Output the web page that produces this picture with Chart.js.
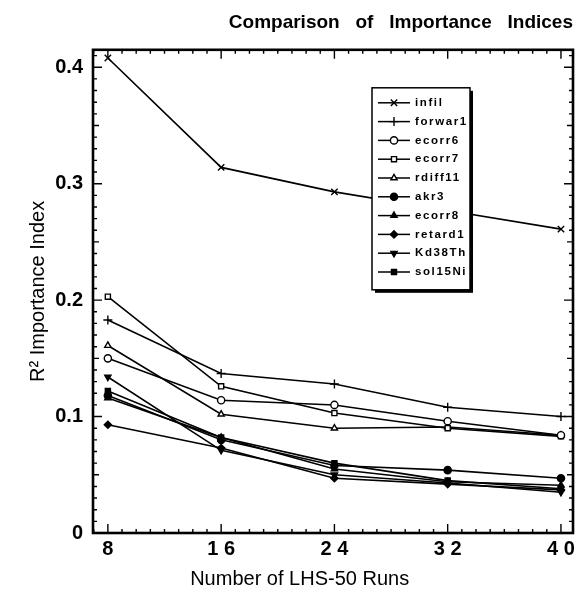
<!DOCTYPE html>
<html>
<head>
<meta charset="utf-8">
<title>Comparison of Importance Indices</title>
<script src="https://cdn.jsdelivr.net/npm/chart.js@4"></script>
<style>
  html, body { margin: 0; padding: 0; background: #fff; }
  canvas { display: block; }
</style>
</head>
<body>
<canvas id="importance" width="584" height="592"></canvas>
<script>
// Data definitions
const runs = [8, 16, 24, 32, 40];
const runLabels = ['8', '1 6', '2 4', '3 2', '4 0'];
const yTicks = [0, 0.1, 0.2, 0.3, 0.4];
const yTickLabels = ['0', '0.1', '0.2', '0.3', '0.4'];

const infil = [0.408, 0.314, 0.293, 0.277, 0.261];
const forwar1 = [0.183, 0.137, 0.128, 0.108, 0.100];
const ecorr6 = [0.150, 0.114, 0.110, 0.096, 0.084];
const ecorr7 = [0.203, 0.126, 0.103, 0.090, 0.083];
const rdiff11 = [0.161, 0.102, 0.090, 0.091, 0.084];
const akr3 = [0.118, 0.080, 0.058, 0.054, 0.047];
const ecorr8 = [0.116, 0.082, 0.055, 0.044, 0.041];
const retard1 = [0.093, 0.073, 0.047, 0.042, 0.037];
const kd38Th = [0.134, 0.071, 0.050, 0.043, 0.035];
const sol15Ni = [0.122, 0.082, 0.060, 0.045, 0.038];

// Marker look for each variable
const series = [
  { label: 'infil', values: infil, style: 'crossRot', fill: false },
  { label: 'forwar1', values: forwar1, style: 'cross', fill: false },
  { label: 'ecorr6', values: ecorr6, style: 'circle', fill: false },
  { label: 'ecorr7', values: ecorr7, style: 'rect', fill: false },
  { label: 'rdiff11', values: rdiff11, style: 'triangle', fill: false },
  { label: 'akr3', values: akr3, style: 'circle', fill: true },
  { label: 'ecorr8', values: ecorr8, style: 'triangle', fill: true },
  { label: 'retard1', values: retard1, style: 'rectRot', fill: true },
  { label: 'Kd38Th', values: kd38Th, style: 'triangle', fill: true, rotation: 180 },
  { label: 'sol15Ni', values: sol15Ni, style: 'rect', fill: true }
];

const datasets = series.map(s => ({
  label: s.label,
  data: runs.map((r, i) => ({ x: r, y: s.values[i] })),
  borderColor: '#000',
  borderWidth: 1.6,
  pointStyle: s.style,
  pointRotation: s.rotation || 0,
  pointRadius: s.style === 'crossRot' || s.style === 'cross' ? 4.5 : 3.6,
  pointBorderColor: '#000',
  pointBorderWidth: 1.4,
  pointBackgroundColor: s.fill ? '#000' : '#fff',
  tension: 0
}));

const fontFamily = '"Liberation Sans", Arial, sans-serif';

// Frame with inward tick marks on all four sides
const frameTicks = {
  id: 'frameTicks',
  afterDatasetsDraw(chart) {
    const { ctx, chartArea: a, scales: { x, y } } = chart;
    ctx.save();
    ctx.strokeStyle = '#000';
    ctx.lineWidth = 1.4;
    ctx.beginPath();
    for (let v = 7; v <= 40; v++) {
      const px = x.getPixelForValue(v);
      const len = v % 8 === 0 ? 9 : 4;
      ctx.moveTo(px, a.bottom); ctx.lineTo(px, a.bottom - len);
      ctx.moveTo(px, a.top); ctx.lineTo(px, a.top + len);
    }
    for (let i = 0; i <= 41; i++) {
      const py = y.getPixelForValue(i / 100);
      const len = i % 10 === 0 ? 9 : i % 5 === 0 ? 6 : 4;
      ctx.moveTo(a.left, py); ctx.lineTo(a.left + len, py);
      ctx.moveTo(a.right, py); ctx.lineTo(a.right - len, py);
    }
    ctx.stroke();
    ctx.lineWidth = 2.6;
    ctx.strokeRect(a.left, a.top, a.width, a.height);
    ctx.restore();
  }
};

// Boxed legend inside the plot, with a drop shadow
const boxLegend = {
  id: 'boxLegend',
  afterDatasetsDraw(chart) {
    const { ctx, chartArea: a } = chart;
    const left = a.left + 279, top = a.top + 38, w = 98, h = 202;
    const rowH = 18.8;
    ctx.save();
    ctx.fillStyle = '#000';
    ctx.fillRect(left + 3, top + 3, w, h);
    ctx.fillStyle = '#fff';
    ctx.fillRect(left, top, w, h);
    ctx.strokeStyle = '#000';
    ctx.lineWidth = 1.5;
    ctx.strokeRect(left, top, w, h);
    ctx.font = 'bold 11.5px ' + fontFamily;
    ctx.letterSpacing = '1.6px';
    ctx.textBaseline = 'middle';
    chart.data.datasets.forEach((ds, i) => {
      const cy = top + 15 + i * rowH;
      ctx.strokeStyle = '#000';
      ctx.lineWidth = 1.5;
      ctx.beginPath();
      ctx.moveTo(left + 6, cy);
      ctx.lineTo(left + 38, cy);
      ctx.stroke();
      ctx.fillStyle = ds.pointBackgroundColor;
      ctx.lineWidth = ds.pointBorderWidth;
      Chart.helpers.drawPoint(ctx, {
        pointStyle: ds.pointStyle,
        rotation: ds.pointRotation,
        radius: ds.pointRadius,
        borderWidth: ds.pointBorderWidth
      }, left + 22, cy);
      ctx.fillStyle = '#000';
      ctx.fillText(ds.label, left + 43, cy);
    });
    ctx.restore();
  }
};

new Chart(document.getElementById('importance').getContext('2d'), {
  type: 'line',
  data: { datasets },
  options: {
    responsive: false,
    animation: false,
    devicePixelRatio: 1,
    layout: { padding: { left: 0, right: 11, top: 0, bottom: 0 } },
    plugins: {
      legend: { display: false },
      tooltip: { enabled: false },
      title: {
        display: true,
        text: 'Comparison   of   Importance   Indices',
        align: 'end',
        color: '#000',
        font: { family: fontFamily, size: 19, weight: 'bold' },
        padding: { top: 11, bottom: 16 }
      }
    },
    scales: {
      x: {
        type: 'linear',
        min: 6.95,
        max: 40.85,
        grid: { display: false, drawTicks: false },
        border: { display: false },
        afterBuildTicks: scale => { scale.ticks = runs.map(v => ({ value: v })); },
        afterFit: scale => { scale.height = 59; },
        ticks: {
          color: '#000',
          padding: 4,
          maxRotation: 0,
          font: { family: fontFamily, size: 20, weight: 'bold' },
          callback: v => runLabels[runs.indexOf(v)]
        },
        title: {
          display: true,
          // trailing spaces move the centred caption left of the plot's middle
          text: 'Number of LHS-50 Runs' + ' '.repeat(12),
          color: '#000',
          font: { family: fontFamily, size: 20 },
          padding: { top: 0, bottom: 1 }
        }
      },
      y: {
        min: 0,
        max: 0.415,
        grid: { display: false, drawTicks: false },
        border: { display: false },
        afterBuildTicks: scale => { scale.ticks = yTicks.map(v => ({ value: v })); },
        afterFit: scale => { scale.width = 93; },
        ticks: {
          color: '#000',
          padding: 10,
          font: { family: fontFamily, size: 20, weight: 'bold' },
          callback: v => yTickLabels[yTicks.indexOf(v)]
        },
        title: {
          display: true,
          text: 'R² Importance Index',
          color: '#000',
          font: { family: fontFamily, size: 20 },
          padding: { top: 26, bottom: 0 }
        }
      }
    }
  },
  plugins: [frameTicks, boxLegend]
});
</script>
</body>
</html>
